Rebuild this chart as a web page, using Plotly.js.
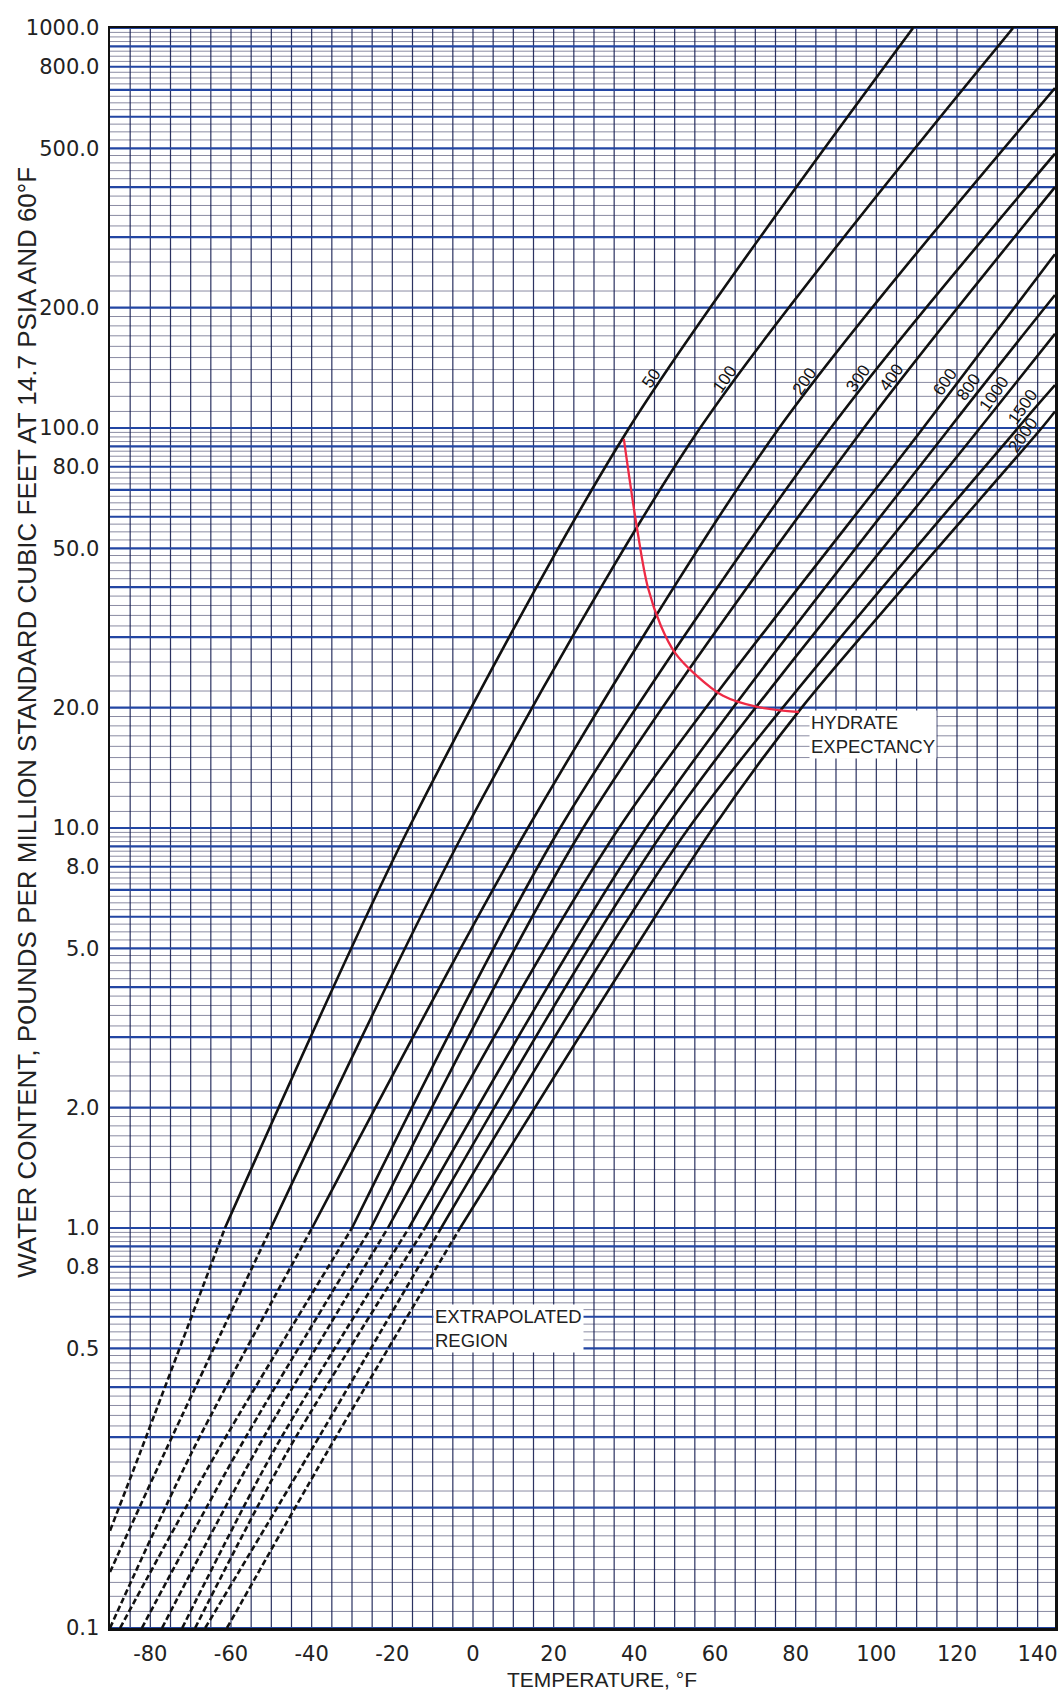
<!DOCTYPE html>
<html><head><meta charset="utf-8">
<script src="https://cdn.plot.ly/plotly-3.0.1.min.js"></script>
<style>html,body{margin:0;padding:0;background:#fff}#chart{width:1059px;height:1693px}</style>
</head><body><div id="chart"></div>
<script>
// ---- data (temperature °F, water content lb/MMscf) ----
const pressures = ['50','100','200','300','400','600','800','1000','1500','2000'];
const T50   = [-90, -82.5, -61.5, -15.9, 38.7, 109.1];
const W50   = [0.175, 0.275, 1, 10, 100, 1000];
const T100  = [-90, -76.4, -50.1, -1.7, 56.3, 133.9];
const W100  = [0.138, 0.275, 1, 10, 100, 1000];
const T200  = [-90, -69.7, -39.9, 13.6, 75.9, 144.3];
const W200  = [0.1, 0.275, 1, 10, 100, 708];
const T300  = [-87.5, -63.5, -30.0, 21.6, 88.7, 144.3];
const W300  = [0.1, 0.275, 1, 10, 100, 485];
const T400  = [-82.1, -58.5, -25.3, 27.3, 96.9, 144.3];
const W400  = [0.1, 0.275, 1, 10, 100, 400];
const T600  = [-77.1, -54.0, -21.1, 36.2, 111.6, 144.3];
const W600  = [0.1, 0.275, 1, 10, 100, 272];
const T800  = [-72.1, -49.6, -15.9, 42.9, 118.2, 144.3];
const W800  = [0.1, 0.275, 1, 10, 100, 215];
const T1000 = [-68.9, -46.1, -11.9, 47.8, 125.7, 144.3];
const W1000 = [0.1, 0.275, 1, 10, 100, 172];
const T1500 = [-66.4, -40.4, -7.9, 53.5, 135.1, 144.3];
const W1500 = [0.1, 0.275, 1, 10, 100, 128];
const T2000 = [-61.0, -36.2, -3.2, 59.5, 81.5, 141.0, 144.3];
const W2000 = [0.1, 0.275, 1, 10, 20, 100, 110];
const labelW = [133, 132, 131, 133, 134, 130, 126, 122, 113, 96];

const hydrateT = [37.4, 40.7, 43.4, 46.6, 50.1, 55.3, 62.0, 70.2, 80.8];
const hydrateW = [93.9, 55.9, 39.8, 32.0, 27.4, 24.1, 21.4, 20.1, 19.5];

const xTicks = [-80, -60, -40, -20, 0, 20, 40, 60, 80, 100, 120, 140];
const yTicks = [0.1, 0.5, 0.8, 1, 2, 5, 8, 10, 20, 50, 80, 100, 200, 500, 800, 1000];
const yTickText = ['0.1','0.5','0.8','1.0','2.0','5.0','8.0','10.0','20.0','50.0','80.0','100.0','200.0','500.0','800.0','1000.0'];
const dashedBelow = 1.0;

// ---- build ----
const curvesT = [T50,T100,T200,T300,T400,T600,T800,T1000,T1500,T2000];
const curvesW = [W50,W100,W200,W300,W400,W600,W800,W1000,W1500,W2000];
const xMin = -90, xMax = 144.3;
const traces = [];
const FONT = 'Liberation Sans, Arial, sans-serif';

function hLines(vals, color, width){
  const x=[], y=[];
  vals.forEach(v=>{x.push(xMin, xMax, null); y.push(v, v, null);});
  return {x, y, mode:'lines', line:{color, width}, hoverinfo:'skip', showlegend:false};
}
function vLines(vals, color, width){
  const x=[], y=[];
  vals.forEach(v=>{x.push(v, v, null); y.push(0.1, 1000, null);});
  return {x, y, mode:'lines', line:{color, width}, hoverinfo:'skip', showlegend:false};
}
const fine=[], major=[];
for (let k=-1; k<=2; k++){
  const p = Math.pow(10,k);
  for (let d=1; d<10; d++){ major.push(+(d*p).toPrecision(6)); }
  for (let d=1.1; d<1.999; d+=0.1) fine.push(+(d*p).toPrecision(6));
  for (let d=2.2; d<4.999; d+=0.2) { if (Math.abs(d-Math.round(d))>1e-6) fine.push(+(d*p).toPrecision(6)); }
  for (let d=5.25; d<9.999; d+=0.25) { if (Math.abs(d-Math.round(d))>1e-6) fine.push(+(d*p).toPrecision(6)); }
}
major.push(1000);
traces.push(hLines(fine, 'rgba(60,62,100,0.6)', 1));
const vert=[]; for (let t=-85; t<=140; t+=5) vert.push(t);
traces.push(vLines(vert, 'rgba(20,28,80,0.9)', 1.2));
traces.push(hLines(major, '#2346a3', 2.2));

curvesT.forEach((T,i)=>{
  const W = curvesW[i];
  const sx=[], sy=[], dx=[], dy=[];
  T.forEach((t,j)=>{
    if (W[j] >= dashedBelow){ sx.push(t); sy.push(W[j]); }
    if (W[j] <= dashedBelow){ dx.push(t); dy.push(W[j]); }
  });
  traces.push({x:sx, y:sy, mode:'lines', line:{color:'#111', width:2.6, shape:'spline', smoothing:0.8}, name:pressures[i]+' psia', showlegend:false});
  traces.push({x:dx, y:dy, mode:'lines', line:{color:'#111', width:2.6, dash:'6px,3px', shape:'spline', smoothing:0.8}, name:pressures[i]+' psia (extrapolated)', showlegend:false});
});
traces.push({x:hydrateT, y:hydrateW, mode:'lines', line:{color:'#ee2a45', width:2.3, shape:'spline', smoothing:1}, name:'Hydrate expectancy', showlegend:false});

function tAt(T, W, w){
  const lw = Math.log10(w);
  for (let j=0;j<W.length-1;j++){
    const a=Math.log10(W[j]), b=Math.log10(W[j+1]);
    if (lw>=a && lw<=b){ return T[j] + (T[j+1]-T[j])*(lw-a)/(b-a); }
  }
  return T[T.length-1];
}
const ann = [];
pressures.forEach((p,i)=>{
  ann.push({x:tAt(curvesT[i], curvesW[i], labelW[i]), y:Math.log10(labelW[i]), xref:'x', yref:'y',
    text:p, showarrow:false, textangle:-55, xanchor:'center', yanchor:'middle', xshift:-13, yshift:0,
    font:{family:FONT, size:17, color:'#111'}});
});
const hn = hydrateT.length-1;
ann.push({x:hydrateT[hn], y:Math.log10(hydrateW[hn]), xref:'x', yref:'y', text:'HYDRATE<br>EXPECTANCY',
  showarrow:false, xanchor:'left', yanchor:'top', align:'left', xshift:10, yshift:2, bgcolor:'#fff', borderpad:1,
  font:{family:FONT, size:18.5, color:'#222'}});
ann.push({x:-10, y:Math.log10(0.645), xref:'x', yref:'y', text:'EXTRAPOLATED<br>REGION',
  showarrow:false, xanchor:'left', yanchor:'top', align:'left', bgcolor:'#fff', borderpad:1,
  font:{family:FONT, size:18.5, color:'#222'}});
ann.push({x:-0.0875, y:0.566, xref:'paper', yref:'paper', textangle:-90, showarrow:false, xanchor:'center', yanchor:'middle',
  text:'WATER CONTENT, POUNDS PER MILLION STANDARD CUBIC FEET AT 14.7 PSIA AND 60°F',
  font:{family:FONT, size:26, color:'#222'}});
ann.push({x:0.521, y:-0.032, xref:'paper', yref:'paper', xanchor:'center', yanchor:'middle', showarrow:false,
  text:'TEMPERATURE, °F', font:{family:FONT, size:21, color:'#222'}});

const layout = {
  width:1059, height:1693,
  margin:{l:110, r:4, t:28, b:65},
  paper_bgcolor:'#fff', plot_bgcolor:'#fff',
  showlegend:false,
  xaxis:{range:[xMin, xMax], tickvals:xTicks, ticktext:xTicks.map(String), ticks:'', showgrid:false, zeroline:false,
    showline:true, mirror:true, linecolor:'#111', linewidth:2.5, ticklabelstandoff:5, ticklabeloverflow:'allow',
    tickfont:{family:'DejaVu Sans, sans-serif', size:21, color:'#222'}},
  yaxis:{type:'log', range:[-1, 3], tickvals:yTicks, ticktext:yTickText, ticks:'', showgrid:false, zeroline:false,
    showline:true, mirror:true, linecolor:'#111', linewidth:2.5, ticklabelstandoff:4,
    tickfont:{family:'DejaVu Sans, sans-serif', size:21, color:'#222'}},
  annotations: ann
};
Plotly.newPlot('chart', traces, layout, {staticPlot:true});
</script></body></html>
